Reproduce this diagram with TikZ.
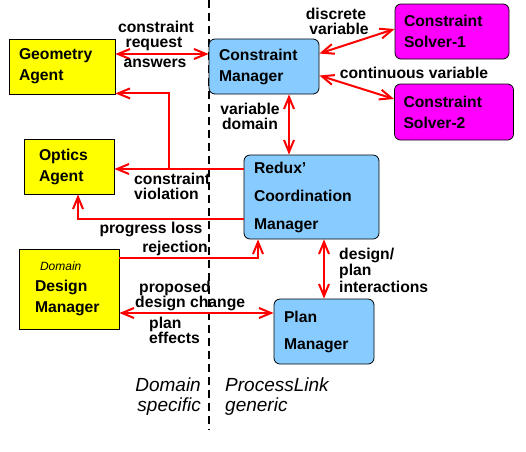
\documentclass[tikz,border=0pt]{standalone}
\usepackage{fontspec}
\setmainfont{Liberation Sans}
\usetikzlibrary{arrows.meta}
\definecolor{lblue}{RGB}{136,204,255}
\definecolor{myyellow}{RGB}{255,255,0}
\definecolor{mymag}{RGB}{255,0,255}
\begin{document}
\begin{tikzpicture}[x=1pt,y=-1pt,
  box/.style={draw=black,line width=0.8pt,align=left,inner xsep=0pt,inner ysep=0pt,
    font=\fontsize{15.7}{21}\selectfont\bfseries},
  agent/.style={box,fill=myyellow},
  mgr/.style={box,fill=lblue,rounded corners=6pt},
  solver/.style={box,fill=mymag,rounded corners=6pt},
  lbl/.style={inner sep=0pt,font=\fontsize{15.7}{15}\selectfont\bfseries},
  big/.style={inner sep=0pt,font=\fontsize{19}{20}\selectfont\itshape},
  conn/.style={draw=red,line width=2pt,-{Straight Barb[length=12pt,width=10pt]}},
  bconn/.style={draw=red,line width=2pt,{Straight Barb[length=12pt,width=10pt]}-{Straight Barb[length=12pt,width=10pt]}},
]
\useasboundingbox (0,0) rectangle (526,451);

% divider
\draw[line width=2pt,dash pattern=on 8pt off 5pt] (209,0) -- (209,430);

% boxes
\node[agent,minimum width=106pt,minimum height=55pt,text width=86pt] (geo) at (62,66.5) {Geometry\\Agent};
\node[mgr,minimum width=110pt,minimum height=55pt,text width=90pt] (cm) at (264,66.5) {Constraint\\Manager};
\node[solver,minimum width=114pt,minimum height=55pt,text width=96pt] (s1) at (452,31.5) {Constraint\\Solver-1};
\node[solver,minimum width=119pt,minimum height=56pt,text width=101pt] (s2) at (454,112) {Constraint\\Solver-2};
\node[agent,minimum width=90pt,minimum height=55pt,text width=60pt] (opt) at (69,166.5) {Optics\\Agent};
\node[mgr,minimum width=135pt,minimum height=84pt,text width=115pt,font=\fontsize{15.7}{28}\selectfont\bfseries] (redux) at (311.5,197) {Redux'\\Coordination\\Manager};
\node[agent,minimum width=100pt,minimum height=80pt,text width=68pt] (ddm) at (69,289)
  {\hspace*{5pt}{\fontsize{12}{12}\selectfont\mdseries\itshape Domain}\\Design\\Manager};
\node[mgr,minimum width=100pt,minimum height=65pt,text width=80pt,font=\fontsize{15.7}{27}\selectfont\bfseries] (plan) at (324,331.5) {Plan\\Manager};

% connectors
\draw[bconn] ([yshift=12.5pt]geo.east) -- ([yshift=12.5pt]cm.west);
\draw[bconn] ([yshift=13pt]cm.east) -- ([yshift=2.5pt]s1.west);
\draw[bconn] ([yshift=-9pt]cm.east) -- ([yshift=13pt]s2.west);
\draw[bconn] ([xshift=25pt]cm.south) -- ([xshift=25pt]cm.south |- redux.north);
\coordinate (j) at (169,169);
\draw[conn] ([yshift=28pt]redux.west) -- ([yshift=-2.5pt]opt.east);
\draw[conn] (j) |- ([yshift=1pt]geo.south east);
\draw[conn] ([yshift=-22pt]redux.west) -| ([xshift=9pt]opt.south);
\draw[conn] ([yshift=31pt]ddm.east) -| ([xshift=-53.5pt]redux.south);
\draw[bconn] (plan.north |- redux.south) -- (plan.north);
\draw[bconn] ([yshift=-24pt]ddm.east) -- ([yshift=18.5pt]plan.west);

% labels
\node[lbl,align=center] (l1) at (156,35.5) {constraint\\\hspace*{-4pt}request};
\node[lbl] (l2) at (155,63) {answers};
\node[lbl,align=center] (l3) at (336,21) {discrete\\\hspace*{6pt}variable};
\node[lbl] (l4) at (414,73) {continuous variable};
\node[lbl,align=center] (l5) at (250,116) {variable\\domain};
\node[lbl,align=left,anchor=west] (l6) at (134,186) {constraint\\violation};
\node[lbl] (l7) at (151,229) {progress loss};
\node[lbl,anchor=east] (l8) at (208,248) {rejection};
\node[lbl,align=left,anchor=west,font=\fontsize{15.7}{16.5}\selectfont\bfseries] (l9) at (339,270) {design/\\plan\\interactions};
\node[lbl,align=left,anchor=west,font=\fontsize{15.7}{14}\selectfont\bfseries] (l10) at (135,296) {\hspace*{4pt}proposed\\design change};
\node[lbl,align=left,anchor=west] (l11) at (149,330.5) {plan\\effects};
\node[big,align=right,anchor=east] (l12) at (201,397) {Domain\\specific};
\node[big,align=left,anchor=west] (l13) at (225,397) {ProcessLink\\generic};
\end{tikzpicture}
\end{document}
